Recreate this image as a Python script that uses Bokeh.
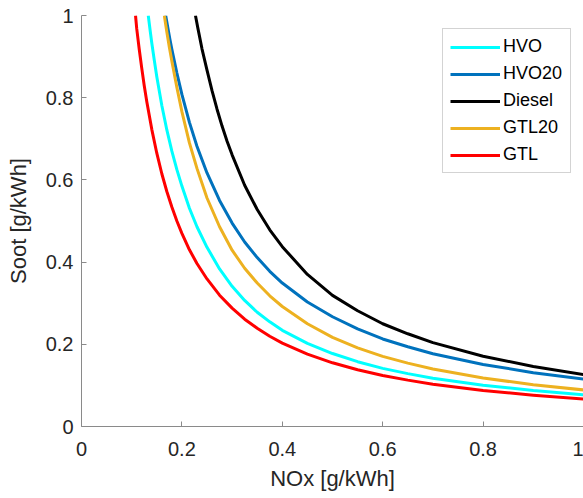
from bokeh.plotting import figure
from bokeh.models import Range1d, FixedTicker, Legend, LegendItem
from bokeh.embed import file_html
from bokeh.resources import INLINE

# ---- data ----
hvo_x = [0.133, 0.137, 0.14, 0.145, 0.15, 0.16, 0.17, 0.18, 0.19, 0.2, 0.215, 0.23, 0.25, 0.275,
         0.3, 0.325, 0.35, 0.375, 0.4, 0.45, 0.5, 0.55, 0.6, 0.65, 0.7, 0.8, 0.9, 1.0]
hvo_y = [1.0, 0.961, 0.933, 0.891, 0.851, 0.781, 0.7215, 0.670, 0.625, 0.585, 0.531, 0.486, 0.436, 0.3834,
         0.341, 0.3067, 0.278, 0.2546, 0.234, 0.2024, 0.1775, 0.1577, 0.1414, 0.1286, 0.1174, 0.1005, 0.0875, 0.0774]

hvo20_x = [0.1677, 0.172, 0.176, 0.18, 0.19, 0.2, 0.215, 0.23, 0.25, 0.275, 0.3, 0.325, 0.35, 0.375,
           0.4, 0.45, 0.5, 0.55, 0.6, 0.65, 0.7, 0.8, 0.9, 1.0]
hvo20_y = [1.0, 0.970, 0.943, 0.918, 0.860, 0.808, 0.740, 0.682, 0.617, 0.550, 0.495, 0.449, 0.411, 0.3775,
           0.349, 0.303, 0.267, 0.2375, 0.213, 0.194, 0.177, 0.151, 0.131, 0.1152]

diesel_x = [0.227, 0.232, 0.24, 0.25, 0.26, 0.27, 0.28, 0.29, 0.3, 0.325, 0.35, 0.375, 0.4, 0.45,
            0.5, 0.55, 0.6, 0.65, 0.7, 0.8, 0.9, 1.0]
diesel_y = [1.0, 0.968, 0.919, 0.867, 0.817, 0.772, 0.731, 0.694, 0.661, 0.587, 0.528, 0.4785, 0.4375, 0.370,
            0.319, 0.2817, 0.250, 0.2256, 0.204, 0.171, 0.146, 0.1265]

gtl20_x = [0.165, 0.17, 0.175, 0.18, 0.19, 0.2, 0.215, 0.23, 0.25, 0.275, 0.3, 0.325, 0.35, 0.375,
           0.4, 0.45, 0.5, 0.55, 0.6, 0.65, 0.7, 0.8, 0.9, 1.0]
gtl20_y = [1.0, 0.960, 0.923, 0.889, 0.825, 0.766, 0.690, 0.628, 0.556, 0.486, 0.429, 0.385, 0.349, 0.318,
           0.292, 0.250, 0.217, 0.1915, 0.1705, 0.1542, 0.140, 0.118, 0.1016, 0.089]

gtl_x = [0.1076, 0.11, 0.115, 0.12, 0.125, 0.13, 0.14, 0.15, 0.16, 0.17, 0.18, 0.19, 0.2, 0.215, 0.23,
         0.25, 0.275, 0.3, 0.325, 0.35, 0.375, 0.4, 0.45, 0.5, 0.55, 0.6, 0.65, 0.7, 0.8, 0.9, 1.0]
gtl_y = [1.0, 0.968, 0.918, 0.872, 0.829, 0.791, 0.723, 0.665, 0.615, 0.5717, 0.534, 0.4999, 0.470, 0.430, 0.3966,
         0.359, 0.3195, 0.288, 0.261, 0.239, 0.2195, 0.203, 0.176, 0.155, 0.1381, 0.124, 0.1128, 0.103, 0.0878, 0.0761, 0.067]

series_names = ["HVO", "HVO20", "Diesel", "GTL20", "GTL"]
series_colors = ["#00FFFF", "#0072BD", "#000000", "#EDB120", "#FF0000"]

x_ticks = [0, 0.2, 0.4, 0.6, 0.8, 1]
x_tick_labels = ["0", "0.2", "0.4", "0.6", "0.8", "1"]
y_ticks = [0, 0.2, 0.4, 0.6, 0.8, 1]
y_tick_labels = ["0", "0.2", "0.4", "0.6", "0.8", "1"]

FONT = "Liberation Sans"

p = figure(width=583, height=498, output_backend="svg", toolbar_location=None,
           x_range=Range1d(0, 1), y_range=Range1d(0, 1),
           min_border_left=81, min_border_right=0, min_border_top=15, min_border_bottom=72)
p.outline_line_color = None
p.xgrid.visible = False
p.ygrid.visible = False
p.background_fill_color = "white"
p.border_fill_color = "white"

xs = [hvo_x, hvo20_x, diesel_x, gtl20_x, gtl_x]
ys = [hvo_y, hvo20_y, diesel_y, gtl20_y, gtl_y]
items = []
for name, color, xv, yv in zip(series_names, series_colors, xs, ys):
    r = p.line(xv, yv, line_color=color, line_width=3, line_join="round")
    items.append(LegendItem(label=name, renderers=[r]))

for ax, ticks, labels in ((p.xaxis[0], x_ticks, x_tick_labels), (p.yaxis[0], y_ticks, y_tick_labels)):
    ax.ticker = FixedTicker(ticks=ticks)
    ax.major_label_overrides = {t: l for t, l in zip(ticks, labels)}
    ax.minor_tick_line_color = None
    ax.major_tick_in = 5
    ax.major_tick_out = 0
    ax.axis_line_color = "#8a8a8a"
    ax.major_tick_line_color = "#8a8a8a"
    ax.major_label_text_font = FONT
    ax.major_label_text_font_size = "20px"
    ax.major_label_text_color = "#262626"
    ax.axis_label_text_font = FONT
    ax.axis_label_text_font_size = "22px"
    ax.axis_label_text_font_style = "normal"
    ax.axis_label_text_color = "#262626"

p.xaxis[0].axis_label = "NOx [g/kWh]"
p.yaxis[0].axis_label = "Soot [g/kWh]"
p.xaxis[0].major_label_standoff = 15
p.xaxis[0].axis_label_standoff = 7
p.yaxis[0].major_label_standoff = 8
p.yaxis[0].axis_label_standoff = 12

legend = Legend(items=items, location=(361, 253))
legend.padding = 7
legend.spacing = 6
legend.margin = 0
legend.glyph_width = 50
legend.glyph_height = 20
legend.label_height = 20
legend.label_width = 60
legend.label_standoff = 3
legend.label_text_font = FONT
legend.label_text_font_size = "18px"
legend.label_text_color = "#000000"
legend.border_line_color = "#a8a8a8"
legend.border_line_width = 1
legend.background_fill_color = "white"
legend.background_fill_alpha = 1.0
p.add_layout(legend, "center")

open("out.html", "w").write(file_html(p, INLINE))
